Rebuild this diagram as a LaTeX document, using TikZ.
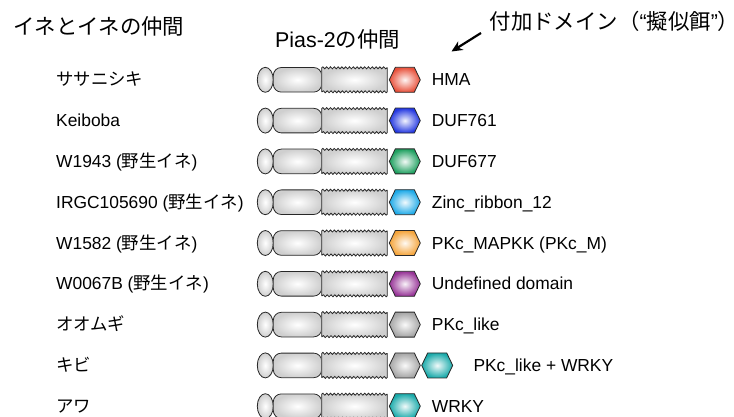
\documentclass[tikz,border=0pt]{standalone}
\usepackage{fontspec}
\setmainfont{Liberation Sans}
\newfontfamily\jp{Noto Sans CJK JP}
\newfontfamily\jpp[RawFeature=+palt]{Noto Sans CJK JP}
\usetikzlibrary{decorations.pathmorphing,arrows.meta}
\definecolor{outl}{RGB}{40,40,40}
\definecolor{chma}{RGB}{232,80,58}
\definecolor{cduf761}{RGB}{35,55,225}
\definecolor{cduf677}{RGB}{30,160,95}
\definecolor{czinc}{RGB}{30,170,232}
\definecolor{cpkcm}{RGB}{245,165,60}
\definecolor{cundef}{RGB}{150,50,150}
\definecolor{cpkclike}{RGB}{165,165,165}
\definecolor{cwrky}{RGB}{25,170,170}
\tikzset{
  grayshade/.style={draw=outl,line width=0.8pt,inner color=white,outer color=black!19},
  lbl/.style={anchor=base west,inner sep=0pt,font=\fontsize{17.4}{20}\selectfont},
  ttl/.style={anchor=base west,inner sep=0pt,font=\fontsize{21.4}{24}\selectfont},
}
\newcommand\hexdom[3]{% left x, row y (px), colour
  \path[draw=outl,line width=0.8pt,inner color=#3!6,outer color=#3]
    (#1,-#2) -- ++(6,12.5) -- ++(19,0) -- ++(6,-12.5) -- ++(-6,-12.5) -- ++(-19,0) -- cycle;}
\newcommand\protrow[1]{% row y (px)
  \path[grayshade] (265.3,-#1) ellipse [x radius=8, y radius=12.5];
  \path[grayshade,rounded corners=8] (273.3,-#1+12.3) rectangle (321.7,-#1-12.3);
  \path[grayshade] (321.7,-#1+12) decorate[decoration={snake,amplitude=1,segment length=3.8}]{-- (387.3,-#1+12)}
     -- (387.3,-#1-12) decorate[decoration={snake,amplitude=1,segment length=3.8}]{-- (321.7,-#1-12)} -- cycle;}
\begin{document}
\begin{tikzpicture}[x=1pt,y=1pt]
\useasboundingbox (0,0) rectangle (734,-417);
% titles
\node[ttl] (t1) at (13,-35) {\jp イネとイネの仲間};
\node[ttl] (t2) at (275,-48) {Pias-2{\jp の仲間}};
\node[ttl] (t3) at (489.5,-30) {{\jp 付加ドメイン（}“{\jp 擬似餌}”{\jpp ）}};
\coordinate (atail) at (481,-33);
\coordinate (ahead) at (451.5,-51.5);
\draw[line width=2.2,-{Stealth[length=11pt,width=10pt]}] (atail) -- (ahead);
% rows
\foreach \y/\c in {79.8/chma,120.6/cduf761,161.4/cduf677,202.2/czinc,243/cpkcm,283.8/cundef,324.6/cpkclike,406.2/cwrky}{
  \protrow{\y}
  \hexdom{389.3}{\y}{\c}
}
\protrow{365.4}
\hexdom{389.3}{365.4}{cpkclike}
\hexdom{421.7}{365.4}{cwrky}
% left labels
\node[lbl] (l1) at (56,-85.9) {\jp ササニシキ};
\node[lbl] (l2) at (56,-126.7) {Keiboba};
\node[lbl] (l3) at (56,-167.5) {W1943 ({\jp 野生イネ})};
\node[lbl] (l4) at (56,-208.3) {IRGC105690 ({\jp 野生イネ})};
\node[lbl] (l5) at (56,-249.1) {W1582 ({\jp 野生イネ})};
\node[lbl] (l6) at (56,-289.9) {W0067B ({\jp 野生イネ})};
\node[lbl] (l7) at (56,-330.7) {\jp オオムギ};
\node[lbl] (l8) at (56,-371.5) {\jp キビ};
\node[lbl] (l9) at (56,-412.3) {\jp アワ};
% right labels
\node[lbl] (r1) at (431.7,-85.9) {HMA};
\node[lbl] (r2) at (431.7,-126.7) {DUF761};
\node[lbl] (r3) at (431.7,-167.5) {DUF677};
\node[lbl] (r4) at (431.7,-208.3) {Zinc\_ribbon\_12};
\node[lbl] (r5) at (431.7,-249.1) {PKc\_MAPKK (PKc\_M)};
\node[lbl] (r6) at (431.7,-289.9) {Undefined domain};
\node[lbl] (r7) at (431.7,-330.7) {PKc\_like};
\node[lbl] (r8) at (473.3,-371.5) {PKc\_like + WRKY};
\node[lbl] (r9) at (431.7,-412.3) {WRKY};
\end{tikzpicture}
\end{document}
